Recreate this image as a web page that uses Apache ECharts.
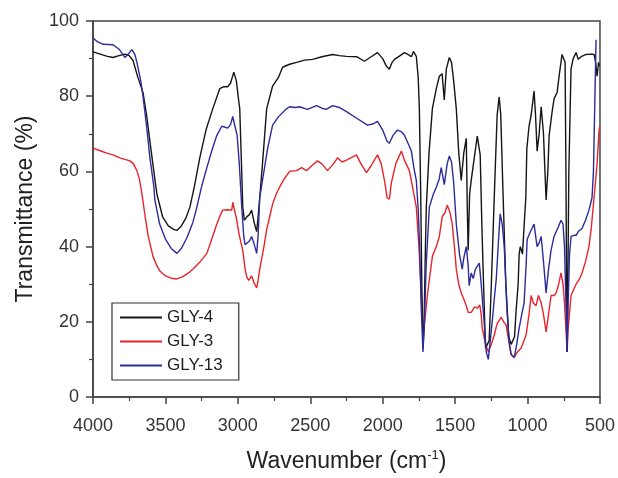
<!DOCTYPE html>
<html>
<head>
<meta charset="utf-8">
<script src="https://cdn.jsdelivr.net/npm/echarts@6/dist/echarts.min.js"></script>
<style>
html,body{margin:0;padding:0;background:#fff;}
#chart{width:618px;height:478px;}
</style>
</head>
<body>
<div id="chart"></div>
<script>
// Tick settings
const xTicks = [4000, 3500, 3000, 2500, 2000, 1500, 1000, 500];
const yTicks = [0, 20, 40, 60, 80, 100];
const seriesNames = ['GLY-4', 'GLY-3', 'GLY-13'];

// GLY-4 : [wavenumber, transmittance]
const gly4 = [
[4000,91.8],[3950,91.2],[3900,90.6],[3862,90.3],[3820,90.8],[3780,91.2],[3750,90.8],[3724,89.5],[3690,85],[3655,81],
[3630,75],[3607,68],[3580,60],[3559,54],[3520,48],[3480,45.5],[3440,44.5],[3421,44.3],[3390,45.5],[3360,47.5],
[3331,50.5],[3300,56],[3263,63.6],[3220,71],[3173,76.7],[3125,82],[3100,82.5],[3070,82.5],[3050,83.5],[3028,86.4],
[3010,84],[2995,79],[2987,76.7],[2975,62],[2966,50.5],[2955,47],[2939,47.9],[2920,48.5],[2905,49.7],[2885,46],
[2870,44],[2860,48],[2849,53],[2830,62],[2801,76.7],[2760,82.7],[2720,85],[2691,87.7],[2643,88.5],[2594,89],
[2540,89.6],[2484,89.8],[2420,90.5],[2346,91.1],[2300,90.8],[2250,90.6],[2180,90.5],[2126,89.3],[2080,90.5],[2036,91.6],
[2000,90],[1975,88],[1954,87.2],[1935,89],[1919,89.8],[1880,90.8],[1850,91.6],[1820,91],[1802,90.5],[1788,91.9],
[1768,90.6],[1755,85],[1747,76.7],[1738,55],[1730,30],[1722,13],[1715,18],[1705,40],[1699,50.5],[1680,65],
[1657,76.7],[1630,82],[1609,85.3],[1590,86],[1575,79],[1561,87.2],[1540,90.3],[1525,89],[1510,84],[1492,76.7],
[1475,65],[1458,57.6],[1440,65],[1423,68.8],[1416,50],[1410,39],[1400,54],[1389,57.6],[1370,63],[1347,69.4],
[1327,64.4],[1315,45],[1300,25],[1290,13],[1280,12.5],[1265,15],[1250,30],[1230,53],[1210,75],[1196,79.8],
[1185,75],[1170,55],[1150,30],[1130,16],[1113,14],[1100,13.5],[1090,16],[1079,23],[1065,30],[1058,38],
[1050,40],[1044,40],[1035,38],[1020,48],[1012,53],[1005,66],[990,72],[975,75],[955,81.4],[945,75],
[934,65.4],[920,70],[906,77.2],[890,70],[880,60],[872,52.4],[860,60],[851,69.6],[830,76],[817,79.3],
[796,81],[780,86],[762,91.1],[750,91],[741,89],[735,60],[730,25],[727,12],[722,30],[715,60],
[700,87.2],[685,90],[665,91.6],[650,89.8],[630,90.5],[596,91.1],[560,91.2],[541,91.1],[530,89],[520,85.3],
[510,89],[505,88]
];

// GLY-3
const gly3 = [
[4000,66.2],[3950,65.5],[3900,64.8],[3862,64.4],[3814,63.6],[3780,63.2],[3745,62.8],[3720,62],[3697,60.2],[3680,58],
[3662,54],[3640,48],[3620,43],[3586,37.4],[3560,35],[3538,33.5],[3500,32.2],[3460,31.6],[3421,31.4],[3380,32],
[3340,33],[3311,34],[3260,36],[3214,38.2],[3180,42],[3145,46],[3120,48.5],[3104,49.7],[3070,49.8],[3042,49.7],
[3035,51.8],[3025,50],[3010,47.5],[2990,43],[2966,39],[2950,34],[2939,32],[2925,31],[2905,32.2],[2890,30.5],
[2870,29],[2860,31],[2849,34],[2820,40],[2801,44.5],[2780,48],[2760,51.3],[2735,54],[2712,55.8],[2680,58],
[2663,58.9],[2643,60],[2594,60.2],[2560,61],[2526,60.2],[2490,61.5],[2450,62.8],[2420,62],[2381,60.2],[2340,62],
[2312,63.6],[2280,62.5],[2250,63],[2181,64.4],[2150,62],[2112,59.7],[2080,61.5],[2036,64.4],[2010,62],[1985,57],
[1970,53],[1954,52.6],[1940,57],[1910,62],[1871,65.4],[1850,63],[1816,60.2],[1795,56],[1768,50.5],[1750,40],
[1733,27],[1722,16.5],[1710,20],[1692,27],[1657,37.4],[1630,40],[1609,42.7],[1589,48],[1570,49],[1554,51],
[1535,49],[1520,46],[1505,40],[1492,34],[1475,30],[1458,27.7],[1440,26],[1423,24.3],[1410,22.5],[1389,22.5],
[1365,24],[1347,23.6],[1330,24.5],[1320,22],[1313,18.3],[1290,14],[1271,12],[1250,14],[1230,16.5],[1210,19.5],
[1182,21.2],[1165,20],[1148,19.1],[1130,15],[1113,11.3],[1092,10.5],[1070,12],[1044,13],[1010,16.5],[990,22],
[975,27],[960,25],[941,24.3],[925,27],[906,25],[890,22],[872,17.3],[855,22],[838,27],[815,27],
[803,27.7],[785,30],[769,33],[755,30],[745,25],[735,18],[727,12],[720,18],[700,27],[665,30],
[640,31.5],[624,33],[600,36],[576,40],[560,45],[541,53],[520,62],[507,70.7],[502,72]
];

// GLY-13
const gly13 = [
[4000,95.5],[3970,94.5],[3930,93.8],[3862,93.7],[3820,92.5],[3780,90.3],[3750,91.5],[3731,92.4],[3710,91],[3697,89],
[3670,84],[3655,80],[3630,72],[3607,63.6],[3580,56],[3573,52.4],[3540,46],[3500,42],[3460,39.5],[3421,38.2],
[3390,39.5],[3350,42.5],[3310,46.5],[3283,50.5],[3250,56],[3214,61],[3180,65.5],[3145,69.6],[3111,72],[3090,71.8],
[3070,71.5],[3050,72.5],[3035,74.6],[3020,72],[3005,69.6],[2990,62],[2973,50.5],[2960,43],[2950,40.5],[2939,40],
[2920,41.5],[2905,42.7],[2890,41],[2870,38.2],[2860,43],[2849,53],[2820,60],[2794,66.2],[2760,72.3],[2720,74.5],
[2663,76.7],[2643,77.2],[2600,77],[2574,77.2],[2520,76.5],[2457,77.5],[2420,76.8],[2390,76.5],[2346,77.5],[2300,77],
[2250,75.9],[2174,74],[2105,72.3],[2070,72.6],[2036,73.3],[2000,71],[1970,68],[1954,67.5],[1930,69.5],[1898,71],
[1870,70.5],[1850,69.6],[1820,67],[1802,65.4],[1785,61],[1768,57.6],[1755,50],[1745,40],[1735,25],[1722,12],
[1712,20],[1700,35],[1678,50.5],[1650,54],[1630,55.8],[1610,58],[1596,61],[1575,56.5],[1555,62],[1540,64.1],
[1525,62.5],[1510,57],[1492,46],[1470,38],[1451,34],[1440,37],[1423,40],[1410,35],[1403,29.6],[1389,33],
[1375,31.5],[1360,34],[1333,35.6],[1320,30],[1300,20],[1285,12],[1271,10],[1260,14],[1244,20],[1230,26],
[1216,31.4],[1200,42],[1189,48.7],[1175,46],[1161,40],[1150,30],[1141,22.5],[1125,14],[1113,11.3],[1092,10.5],
[1075,14],[1058,18.3],[1040,22],[1024,25],[1010,35],[1003,41.9],[980,44],[955,46],[945,43],[934,40],
[920,41],[906,42.7],[890,36],[872,27.7],[855,34],[838,39],[817,42.7],[790,45],[769,47],[755,46],
[745,40],[735,25],[727,12],[720,25],[710,38],[700,42.7],[680,43],[665,43],[650,44],[624,44.8],
[600,47],[576,49.7],[555,53],[545,60],[535,80],[527,95]
];

const colors = ['#151515', '#e8232b', '#2b2b9c'];
const FONT = '"Liberation Sans", Arial, sans-serif';

const chart = echarts.init(document.getElementById('chart'), null, {renderer: 'canvas'});
chart.setOption({
  animation: false,
  backgroundColor: '#fff',
  grid: {left: 93, right: 17, top: 21, bottom: 75, show: true, borderColor: '#444', borderWidth: 1.5, containLabel: false},
  legend: {
    orient: 'vertical', left: 112, top: 303,
    data: seriesNames,
    icon: 'rect', itemWidth: 42, itemHeight: 2, itemGap: 7,
    borderColor: '#333', borderWidth: 1.2, borderRadius: 0,
    padding: [6, 16, 6, 8],
    textStyle: {fontFamily: FONT, fontSize: 17, color: '#222'}
  },
  xAxis: {
    type: 'value', inverse: true, min: 500, max: 4000, interval: 500,
    name: 'Wavenumber (cm{sup|-1})', nameLocation: 'middle', nameGap: 52,
    nameTextStyle: {fontFamily: FONT, fontSize: 23, color: '#222',
      rich: {sup: {fontFamily: FONT, fontSize: 13, verticalAlign: 'top', padding: [0,0,12,0], color: '#222'}}},
    axisLine: {lineStyle: {color: '#444', width: 1.5}},
    axisTick: {show: true, inside: false, length: 7, lineStyle: {color: '#444', width: 1.5}},
    minorTick: {show: true, splitNumber: 2, length: 4, lineStyle: {color: '#444', width: 1.2}},
    splitLine: {show: false},
    axisLabel: {fontFamily: FONT, fontSize: 18, color: '#333', margin: 20,
      formatter: v => xTicks.indexOf(v) >= 0 ? String(v) : ''}
  },
  yAxis: {
    type: 'value', min: 0, max: 100, interval: 20,
    name: 'Transmittance (%)', nameLocation: 'middle', nameGap: 56,
    nameTextStyle: {fontFamily: FONT, fontSize: 23, color: '#222'},
    axisLine: {show: true, lineStyle: {color: '#444', width: 1.5}},
    axisTick: {show: true, inside: false, length: 7, lineStyle: {color: '#444', width: 1.5}},
    minorTick: {show: true, splitNumber: 2, length: 4, lineStyle: {color: '#444', width: 1.2}},
    splitLine: {show: false},
    axisLabel: {fontFamily: FONT, fontSize: 18, color: '#333', margin: 14,
      formatter: v => yTicks.indexOf(v) >= 0 ? String(v) : ''}
  },
  series: [
    {name: seriesNames[0], type: 'line', data: gly4, showSymbol: false, color: colors[0], lineStyle: {width: 1.4, color: colors[0]}, z: 3},
    {name: seriesNames[1], type: 'line', data: gly3, showSymbol: false, color: colors[1], lineStyle: {width: 1.4, color: colors[1]}, z: 2},
    {name: seriesNames[2], type: 'line', data: gly13, showSymbol: false, color: colors[2], lineStyle: {width: 1.4, color: colors[2]}, z: 4}
  ]
});
</script>
</body>
</html>
